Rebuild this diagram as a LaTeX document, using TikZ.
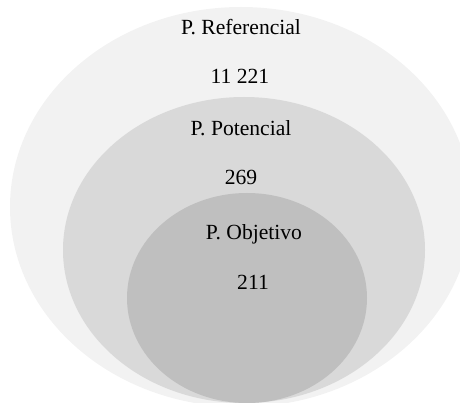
\documentclass[tikz,border=0pt]{standalone}
\usepackage{fontspec}
\setmainfont{Liberation Serif}
\definecolor{grisA}{HTML}{F2F2F2}
\definecolor{grisB}{HTML}{D9D9D9}
\definecolor{grisC}{HTML}{BFBFBF}
\tikzset{etiquette/.style={anchor=base,inner sep=0pt,font=\fontsize{21.6}{26}\selectfont}}
\begin{document}
\begin{tikzpicture}[x=1pt,y=-1pt]
        \useasboundingbox (0,0) rectangle (460,403);
        \clip (0,0) rectangle (460,403);

        % Population de référence
        \fill[grisA] (241,207) ellipse [x radius=231pt, y radius=200pt];
        % Population potentielle
        \fill[grisB] (244,250) ellipse [x radius=181pt, y radius=153pt];
        % Population objectif
        \fill[grisC] (247,298) ellipse [x radius=120pt, y radius=105pt];

        % Textes
        \node[etiquette] (ref) at (241,35) {P. Referencial};
        \node[etiquette] (refn) at (240,84) {11 221};
        \node[etiquette] (pot) at (241,136) {P. Potencial};
        \node[etiquette] (potn) at (241,185) {269};
        \node[etiquette] (obj) at (254,240) {P. Objetivo};
        \node[etiquette] (objn) at (253,289) {211};

    \end{tikzpicture}
\end{document}
